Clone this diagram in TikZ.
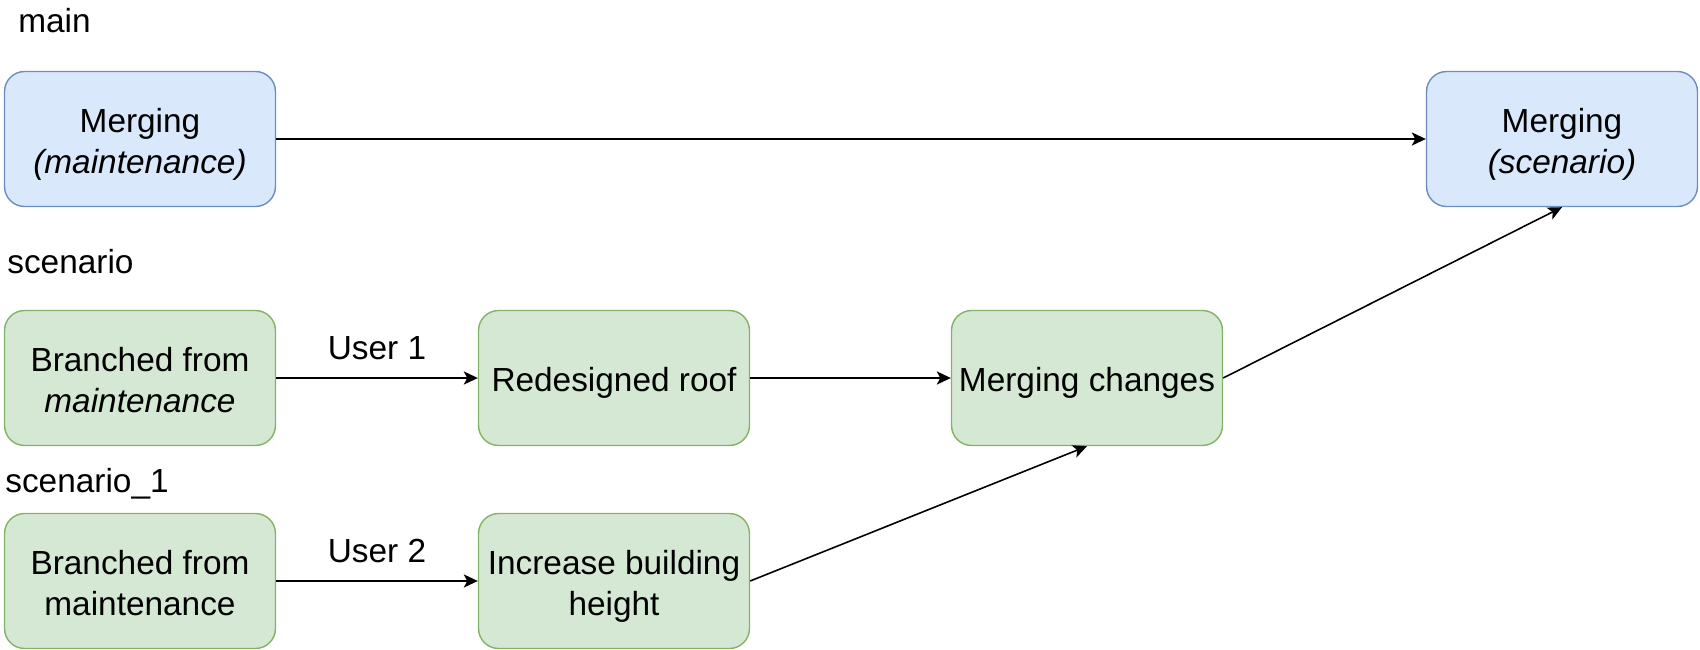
\documentclass[tikz,border=0pt]{standalone}
\usepackage{fontspec}
\setmainfont{Liberation Sans}
\usetikzlibrary{arrows.meta}

\definecolor{mainfill}{HTML}{DAE8FC}
\definecolor{mainline}{HTML}{6C8EBF}
\definecolor{branchfill}{HTML}{D5E8D4}
\definecolor{branchline}{HTML}{82B366}

\begin{document}
\begin{tikzpicture}[x=0.02cm, y=-0.02cm,
    box/.style={rounded corners=0.4cm, minimum width=5.42cm, minimum height=2.7cm,
        align=center, inner sep=0pt, line width=0.8pt, font=\fontsize{19}{23.3}\selectfont,
        text height=19.6pt, text depth=4pt},
    twolines/.style={text height=42.9pt},
    mainbox/.style={box, twolines, draw=mainline, fill=mainfill},
    branchbox/.style={box, draw=branchline, fill=branchfill},
    lbl/.style={font=\fontsize{19}{23.3}\selectfont, inner sep=0pt},
    link/.style={-{Stealth[length=8pt, width=7.5pt, inset=2pt]}, line width=0.9pt}]
    \useasboundingbox (0,0) rectangle (1700,649);

    % Branch names
    \node[lbl, anchor=base west] (mainlbl) at (18,32) {main};
    \node[lbl, anchor=base west] (scnlbl) at (7,273) {scenario};
    \node[lbl, anchor=base west] (scn1lbl) at (5,492) {scenario\_1};

    % main
    \node[mainbox] (mergemaint) at (140,139) {Merging\\\textit{(maintenance)}};
    \node[mainbox] (mergescn) at (1562,139) {Merging\\\textit{(scenario)}};

    % scenario
    \node[branchbox, twolines] (branch1) at (140,378) {Branched from\\\textit{maintenance}};
    \node[branchbox] (roof) at (614,378) {Redesigned roof};
    \node[branchbox] (mergechg) at (1087,378) {Merging changes};

    % scenario_1
    \node[branchbox, twolines] (branch2) at (140,581) {Branched from\\maintenance};
    \node[branchbox, twolines] (height) at (614,581) {Increase building\\height};

    % Connectors
    \draw[link] (mergemaint) -- (mergescn);
    \draw[link] (branch1) -- node[lbl, above=0.35cm] (user1) {User 1} (roof);
    \draw[link] (roof) -- (mergechg);
    \draw[link] (mergechg.east) -- (mergescn.south);
    \draw[link] (branch2) -- node[lbl, above=0.35cm] (user2) {User 2} (height);
    \draw[link] (height.east) -- (mergechg.south);
\end{tikzpicture}
\end{document}
